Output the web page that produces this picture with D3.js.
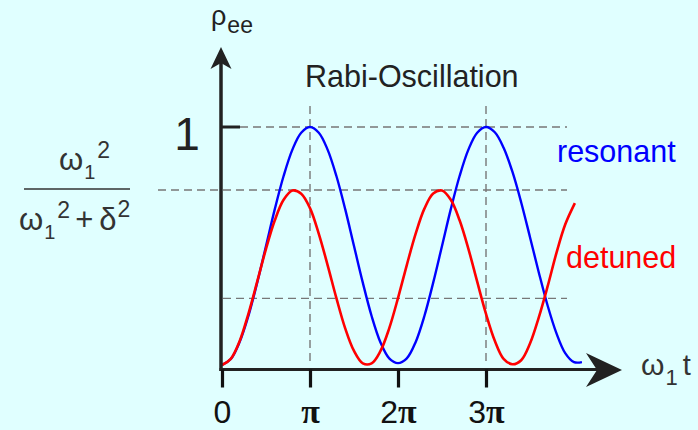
<!DOCTYPE html>
<html>
<head>
<meta charset="utf-8">
<script src="https://cdn.jsdelivr.net/npm/d3@7"></script>
<style>
  html, body { margin: 0; padding: 0; background: #e0ffff; }
  svg { display: block; }
</style>
</head>
<body>
<svg id="chart" width="698" height="430"></svg>
<script>
// Time axis in units of pi (omega_1 t / pi)
const tickValues = [0, 1, 2, 3];
const tickLabels = ["0", "π", "2π", "3π"];

// Excited-state population, resonant drive
const resonantT = [0, 0.1, 0.2, 0.3, 0.4, 0.5, 0.6, 0.7, 0.8, 0.9, 1.0,
  1.1, 1.2, 1.3, 1.4, 1.5, 1.6, 1.7, 1.8, 1.9, 2.0,
  2.1, 2.2, 2.3, 2.4, 2.5, 2.6, 2.7, 2.8, 2.9, 3.0,
  3.1, 3.2, 3.3, 3.4, 3.5, 3.6, 3.7, 3.8, 3.9, 4.0, 4.09];
const resonantRho = [0, 0.025, 0.096, 0.206, 0.346, 0.5, 0.655, 0.794, 0.905, 0.976, 1.0,
  0.976, 0.905, 0.794, 0.655, 0.5, 0.346, 0.206, 0.096, 0.028, 0.008,
  0.028, 0.096, 0.206, 0.346, 0.5, 0.655, 0.794, 0.905, 0.976, 1.0,
  0.978, 0.913, 0.812, 0.683, 0.537, 0.389, 0.25, 0.134, 0.05, 0.012, 0.012];

// Excited-state population, detuned drive
const detunedT = [0, 0.1, 0.2, 0.3, 0.4, 0.5, 0.6, 0.7, 0.8, 0.9, 1.0,
  1.1, 1.2, 1.3, 1.4, 1.5, 1.6, 1.7, 1.8, 1.9, 2.0,
  2.1, 2.2, 2.3, 2.4, 2.5, 2.6, 2.7, 2.8, 2.9, 3.0,
  3.1, 3.2, 3.3, 3.4, 3.5, 3.6, 3.7, 3.8, 3.9, 4.01];
const detunedRho = [0, 0.026, 0.1, 0.215, 0.35, 0.488, 0.608, 0.694, 0.733, 0.72, 0.659,
  0.551, 0.42, 0.281, 0.154, 0.059, 0.007, 0.007, 0.058, 0.154, 0.281,
  0.42, 0.551, 0.657, 0.721, 0.733, 0.694, 0.608, 0.488, 0.35, 0.215,
  0.102, 0.026, 0.003, 0.02, 0.09, 0.2, 0.33, 0.47, 0.59, 0.68];

// Guide levels
const unitLevel = 1;
const detunedMax = 0.735;
const lowerGuide = 0.28;
const guideTimes = [1, 3];

const svg = d3.select("#chart");
const ink = "#222";
const sans = "Liberation Sans, Arial, sans-serif";

const x = d3.scaleLinear().domain([0, 4]).range([222, 574]);
const y = d3.scaleLinear().domain([0, 1]).range([365, 127]);
const axisY = 369.5;

// dashed guides
const guides = svg.append("g")
  .attr("stroke", "#777").attr("stroke-width", 1.4)
  .attr("stroke-dasharray", "8,5").attr("fill", "none");
guides.append("line").attr("x1", 240).attr("x2", 567)
  .attr("y1", y(unitLevel)).attr("y2", y(unitLevel));
guides.append("line").attr("x1", 158).attr("x2", 567)
  .attr("y1", y(detunedMax)).attr("y2", y(detunedMax));
guides.append("line").attr("x1", 223).attr("x2", 567)
  .attr("y1", y(lowerGuide)).attr("y2", y(lowerGuide));
guideTimes.forEach(t => {
  guides.append("line").attr("x1", x(t)).attr("x2", x(t))
    .attr("y1", 106).attr("y2", 362);
});

// curves
const line = d3.line().curve(d3.curveCatmullRom.alpha(0.5))
  .x(d => x(d[0])).y(d => y(d[1]));
svg.append("path")
  .datum(resonantT.map((t, i) => [t, resonantRho[i]]))
  .attr("d", line).attr("fill", "none")
  .attr("stroke", "#0000ff").attr("stroke-width", 2.4);
svg.append("path")
  .datum(detunedT.map((t, i) => [t, detunedRho[i]]))
  .attr("d", line).attr("fill", "none")
  .attr("stroke", "#ff0000").attr("stroke-width", 2.6);

// axes
svg.append("line").attr("x1", x(0) - 1).attr("x2", x(0) - 1)
  .attr("y1", axisY + 1.5).attr("y2", 62)
  .attr("stroke", ink).attr("stroke-width", 3.5);
svg.append("path")
  .attr("d", "M221,47 L210.5,69 L221,63 L231.5,69 Z").attr("fill", ink);

svg.append("line").attr("x1", 219.5).attr("x2", 600)
  .attr("y1", axisY).attr("y2", axisY)
  .attr("stroke", ink).attr("stroke-width", 3);
svg.append("path")
  .attr("d", "M622,370 L586,353 L597,370 L586,387 Z").attr("fill", ink);

// y tick at 1
svg.append("line").attr("x1", 221).attr("x2", 240)
  .attr("y1", y(unitLevel)).attr("y2", y(unitLevel))
  .attr("stroke", ink).attr("stroke-width", 3);
svg.append("text").attr("x", 187).attr("y", 150)
  .attr("text-anchor", "middle")
  .attr("font-family", sans)
  .attr("font-size", 46).attr("fill", ink).text("1");

// x ticks
const xAxis = d3.axisBottom(x).tickValues(tickValues)
  .tickSize(18).tickPadding(13)
  .tickFormat((d, i) => tickLabels[i]);
const gx = svg.append("g").attr("transform", `translate(0,${axisY})`).call(xAxis);
gx.select(".domain").remove();
gx.selectAll(".tick line").attr("stroke", "#111").attr("stroke-width", 3.2);
gx.selectAll(".tick text").each(function(d, i) {
  const t = d3.select(this);
  const label = tickLabels[i];
  t.text(null).attr("fill", "#111").attr("font-size", 32).attr("dy", "0.71em");
  for (const ch of label) {
    t.append("tspan")
      .attr("font-family", ch === "π" ? "Liberation Serif, Times New Roman, serif" : sans)
      .attr("font-weight", ch === "π" ? "bold" : "normal")
      .attr("font-size", ch === "π" ? 34 : 32)
      .text(ch);
  }
});

// y-axis label rho_ee
const yl = svg.append("text").attr("x", 211).attr("y", 24.5)
  .attr("font-family", sans).attr("fill", ink);
yl.append("tspan").attr("font-size", 27).text("ρ");
yl.append("tspan").attr("font-size", 23).attr("dy", 8.5).attr("dx", 1).text("ee");

// x-axis label omega_1 t
const xl = svg.append("text").attr("x", 641).attr("y", 375)
  .attr("font-family", sans).attr("fill", "#333");
xl.append("tspan").attr("font-size", 30).text("ω");
xl.append("tspan").attr("font-size", 22).attr("dy", 10).attr("dx", 1).text("1");
xl.append("tspan").attr("font-size", 29).attr("dy", -10).attr("dx", 5).text("t");

// title
svg.append("text").attr("x", 305).attr("y", 87)
  .attr("font-family", sans).attr("font-size", 30.5).attr("fill", ink)
  .text("Rabi-Oscillation");

// series labels
svg.append("text").attr("x", 557).attr("y", 162)
  .attr("font-family", sans).attr("font-size", 30.5).attr("fill", "#0000ff")
  .text("resonant");
svg.append("text").attr("x", 566).attr("y", 268)
  .attr("font-family", sans).attr("font-size", 30.5).attr("fill", "#ff0000")
  .text("detuned");

// fraction omega_1^2 / (omega_1^2 + delta^2)
const fc = "#333";
const num = svg.append("text").attr("x", 59).attr("y", 170)
  .attr("font-family", sans).attr("fill", fc);
num.append("tspan").attr("font-size", 31).text("ω");
num.append("tspan").attr("font-size", 20).attr("dy", 9).attr("dx", 1).text("1");
num.append("tspan").attr("font-size", 23).attr("dy", -21).attr("dx", 2).text("2");

svg.append("line").attr("x1", 24).attr("x2", 130)
  .attr("y1", 189).attr("y2", 189)
  .attr("stroke", fc).attr("stroke-width", 1.6);

const den = svg.append("text").attr("x", 19).attr("y", 230)
  .attr("font-family", sans).attr("fill", fc);
den.append("tspan").attr("font-size", 31).text("ω");
den.append("tspan").attr("font-size", 20).attr("dy", 9).attr("dx", 1).text("1");
den.append("tspan").attr("font-size", 23).attr("dy", -21).attr("dx", 2).text("2");
den.append("tspan").attr("font-size", 31).attr("dy", 12).attr("dx", 5).text("+");
den.append("tspan").attr("font-size", 31).attr("dx", 6).text("δ");
den.append("tspan").attr("font-size", 23).attr("dy", -13).attr("dx", 1).text("2");
</script>
</body>
</html>
